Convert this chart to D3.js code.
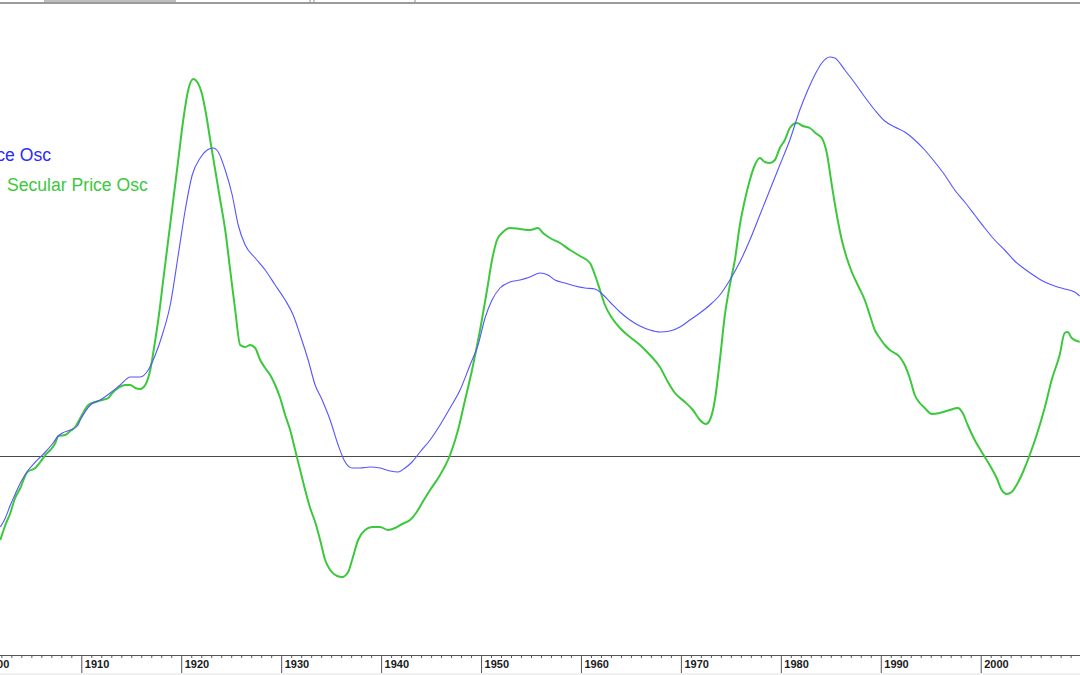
<!DOCTYPE html>
<html>
<head>
<meta charset="utf-8">
<script src="https://cdn.jsdelivr.net/npm/d3@7"></script>
<style>
  html, body { margin: 0; padding: 0; background: #ffffff; overflow: hidden; }
  svg { display: block; }
</style>
</head>
<body>
<svg id="chart" width="1080" height="675"></svg>
<script>
// ---- Data ----
const blueYears = [1901.9,1902.4,1902.9,1903.3,1903.9,1904.7,1905.4,1905.9,1906.4,1907.1,1907.7,1908.1,1908.9,1909.6,1909.9,
 1910.9,1911.9,1912.9,1913.9,1914.9,1915.9,1916.7,1917.4,1918.1,1918.9,1919.7,1920.4,1921.1,1921.9,1922.6,1923.2,1923.7,
 1924.4,1925.1,1925.7,1926.4,1927.4,1928.4,1929.4,1930.4,1931.2,1931.9,1932.7,1933.4,1934.1,1934.9,1935.7,1936.4,1937.1,
 1937.9,1938.9,1939.9,1940.9,1941.7,1942.4,1943.1,1943.9,1944.9,1945.9,1946.9,1947.9,1948.9,1949.7,1950.4,1951.1,1951.9,
 1952.9,1953.9,1954.9,1955.9,1956.7,1957.4,1958.4,1959.4,1960.4,1961.4,1961.9,1962.9,1963.9,1964.9,1965.9,1966.9,1967.9,
 1968.9,1969.9,1970.9,1971.9,1972.9,1973.9,1974.9,1975.9,1976.9,1977.9,1978.9,1979.9,1980.9,1981.9,1982.7,1983.4,1984.1,
 1984.9,1985.4,1986.4,1987.4,1988.4,1989.4,1990.4,1991.4,1992.4,1993.4,1994.4,1995.4,1996.4,1997.4,1998.4,1999.4,2000.4,
 2001.4,2002.4,2003.4,2004.4,2005.4,2006.4,2007.4,2008.4,2009.4,2009.9];
const blueValues = [-17.5,-15.25,-12,-9.75,-6.5,-3.25,-1.25,0,1.25,3.25,5.25,6,6.75,7.75,9.25,
 13,14.25,16,18,20,20,21.75,25.5,30.5,38,50.5,61.75,70.5,74.75,76.75,77.25,76.25,
 71.75,65.5,58,53,49.75,46.75,43,39.25,35.5,30.5,24.25,18,14.25,9.25,3,-1.25,-2.75,
 -2.75,-2.5,-2.75,-3.5,-3.75,-2.75,-1.25,1.25,4.25,8,12.25,16.75,23,28,34.75,39.25,42.25,
 43.75,44.25,45,46,45.5,44.25,43.5,42.75,42.25,42,41.25,38.75,36.25,34.25,32.75,31.75,31.25,
 31.5,32.5,34.25,36,38,40.5,44.25,48.75,54.25,60.5,66.75,73,79.25,86.75,91.75,95.5,98.5,
 100,99.75,96.75,93.5,90,86.75,84,82.5,81.25,79.25,76.75,73.75,70.5,66.75,63.75,60.5,57.25,
 54.25,51.75,49,47,45.25,43.75,42.75,42,41.25,40.25];

const greenYears = [1901.9,1902.4,1902.9,1903.3,1903.9,1904.6,1905.4,1905.9,1906.4,1906.9,1907.4,1907.7,1908.4,1908.9,1909.4,1909.9,
 1910.7,1911.4,1912.1,1912.7,1913.1,1913.7,1914.4,1914.9,1915.4,1915.9,1916.4,1916.9,1917.4,1917.7,1918.2,1918.7,1919.2,1919.7,
 1920.2,1920.7,1921.2,1921.6,1922.1,1922.5,1922.9,1923.4,1923.9,1924.4,1924.9,1925.4,1925.9,1926.4,1926.9,1927.4,1927.9,
 1928.4,1928.9,1929.4,1929.9,1930.4,1930.9,1931.4,1931.9,1932.4,1932.9,1933.4,1933.9,1934.4,1934.9,1935.6,1936.1,1936.7,
 1937.1,1937.7,1938.4,1939.1,1939.9,1940.7,1941.4,1942.1,1942.9,1943.5,1944.1,1944.9,1945.9,1946.9,1947.7,1948.4,1949.1,
 1949.9,1950.6,1951.1,1951.6,1952.2,1952.9,1953.9,1954.9,1955.7,1956.2,1956.9,1957.9,1958.9,1959.9,1960.9,1961.4,1961.9,
 1962.4,1963.1,1963.9,1964.9,1965.9,1966.9,1967.9,1968.7,1969.4,1970.4,1971.2,1971.9,1972.5,1972.9,1973.4,1973.9,1974.4,
 1974.9,1975.4,1975.9,1976.4,1976.9,1977.4,1977.9,1978.4,1978.9,1979.4,1979.9,1980.4,1980.9,1981.6,1982.2,1982.9,1983.6,
 1984.1,1984.6,1985.1,1985.6,1986.1,1986.6,1987.1,1987.7,1988.4,1988.9,1989.4,1989.9,1990.4,1990.9,1991.9,1992.4,1992.9,
 1993.4,1993.9,1994.4,1995.1,1995.9,1996.9,1997.7,1998.2,1998.7,1999.4,2000.1,2000.9,2001.6,2002.1,2002.6,2003.1,2003.7,
 2004.4,2004.9,2005.6,2006.4,2007.1,2007.9,2008.4,2008.7,2009.1,2009.9];
const greenValues = [-20.75,-17,-14,-10.75,-7.75,-3.75,-2.75,-1.25,0.5,1.75,3.5,5.25,5.5,6.5,7.5,9.75,
 13,13.75,14.25,14.75,16,17.25,18,18,17.25,17,18,21.75,29.25,34.25,44.25,54.25,64.25,74.25,
 84.25,91.75,94.5,93.75,90.5,85.5,79.25,71.75,64.25,56.75,46.75,36.75,28,27.5,28,27.25,24.25,
 22.25,20.5,18,14.75,10.5,6.75,1.75,-3.25,-8.25,-12.75,-16.25,-20.75,-25.75,-28.25,-29.75,-30,-28.75,
 -25.75,-20.75,-18.25,-17.5,-17.5,-18.25,-17.75,-16.75,-15.75,-14,-11.5,-8.25,-4.5,0.5,6.75,14.25,21.75,
 31.75,41.75,49.25,54.25,56.25,57.25,57,56.75,57.25,56,54.75,53.5,51.75,50.25,48.5,45.5,41.75,
 38,34.75,32.25,30,28,25.5,22.5,18.75,16,13.75,11.75,9.25,8.25,9.25,14.25,24.25,35.5,
 43,49.25,58,64.25,69.25,73,74.75,73.75,73.5,74.25,77.25,79.25,82.25,83.5,82.75,82.25,80.75,
 79.75,76,68,60.5,54.25,49.75,46.25,43,39.25,35.5,31.75,29.75,28,26.75,25,23,19.75,
 15.5,13.5,12.25,10.75,11,11.75,12.25,11,8,4.25,1.25,-2,-5.25,-8.25,-9.25,-8.75,-6.5,
 -2.75,0.5,5.5,12.25,19.25,25.5,31,31.25,29.75,28.75];

const majorTickYears = [1900,1910,1920,1930,1940,1950,1960,1970,1980,1990,2000];
const tickLabels = ["1900","1910","1920","1930","1940","1950","1960","1970","1980","1990","2000"];
const minorTickYears = d3.range(1900, 2010).filter(y => y % 10 !== 0);
const seriesNames = ["Secular Price Osc", "Secular Price Osc"];

// ---- Chart ----
const W = 1080, H = 675;
const svg = d3.select("#chart");

const x = d3.scaleLinear().domain([1910, 2000]).range([81.3, 980.7]);
const y = d3.scaleLinear().domain([0, 100]).range([457, 57]);

// top window strip
svg.append("rect").attr("x", 0).attr("y", 2).attr("width", W).attr("height", 2).attr("fill", "#9a9a9a");
svg.append("rect").attr("x", 44).attr("y", 0).attr("width", 132).attr("height", 2).attr("fill", "#bdbdbd");
svg.append("rect").attr("x", 309).attr("y", 0).attr("width", 2).attr("height", 2).attr("fill", "#c8c8c8");
svg.append("rect").attr("x", 313).attr("y", 0).attr("width", 2).attr("height", 2).attr("fill", "#c8c8c8");
svg.append("rect").attr("x", 414).attr("y", 0).attr("width", 2).attr("height", 2).attr("fill", "#c8c8c8");

// bottom light strip
svg.append("rect").attr("x", 0).attr("y", 673).attr("width", W).attr("height", 2).attr("fill", "#f0f0f0");

// zero line
svg.append("line")
  .attr("x1", 0).attr("x2", W)
  .attr("y1", Math.round(y(0)) - 0.5).attr("y2", Math.round(y(0)) - 0.5)
  .attr("stroke", "#4a4a4a").attr("stroke-width", 1).attr("shape-rendering", "crispEdges");

// series
const blueData = blueYears.map((yr, i) => [yr, blueValues[i]]);
const greenData = greenYears.map((yr, i) => [yr, greenValues[i]]);
const line = d3.line().x(d => x(d[0])).y(d => y(d[1])).curve(d3.curveMonotoneX);

svg.append("path").datum(greenData).attr("d", line)
  .attr("fill", "none").attr("stroke", "#3cc83c").attr("stroke-width", 2).attr("stroke-linejoin", "round");
svg.append("path").datum(blueData).attr("d", line)
  .attr("fill", "none").attr("stroke", "#5555ff").attr("stroke-width", 1.1).attr("stroke-linejoin", "round");

// legend texts
svg.append("text").attr("x", 51).attr("y", 161).attr("text-anchor", "end")
  .attr("font-family", "Liberation Sans, Arial, sans-serif").attr("font-size", 17.6)
  .attr("fill", "#2a2aff").text(seriesNames[0]);
svg.append("text").attr("x", 7).attr("y", 191)
  .attr("font-family", "Liberation Sans, Arial, sans-serif").attr("font-size", 17.6)
  .attr("fill", "#3cc83c").text(seriesNames[1]);

// x axis
const axisY = 655;
const gMinor = svg.append("g").attr("transform", `translate(0,${axisY})`)
  .call(d3.axisBottom(x).tickValues(minorTickYears).tickSize(3).tickFormat(""));
gMinor.select(".domain").remove();
gMinor.selectAll("line").attr("stroke", "#555");

const gMajor = svg.append("g").attr("transform", `translate(0,${axisY})`)
  .call(d3.axisBottom(x).tickValues(majorTickYears).tickSize(18)
        .tickFormat((d, i) => tickLabels[i]));
gMajor.select(".domain").remove();
gMajor.selectAll("line").attr("stroke", "#555");
gMajor.selectAll("text")
  .attr("x", 3).attr("y", 13).attr("dy", 0)
  .attr("text-anchor", "start")
  .attr("font-family", "Liberation Sans, Arial, sans-serif")
  .attr("font-size", 11).attr("font-weight", "bold").attr("fill", "#1a1a1a");

svg.append("line").attr("x1", 0).attr("x2", W).attr("y1", axisY + 0.5).attr("y2", axisY + 0.5)
  .attr("stroke", "#555").attr("stroke-width", 1).attr("shape-rendering", "crispEdges");
</script>
</body>
</html>
